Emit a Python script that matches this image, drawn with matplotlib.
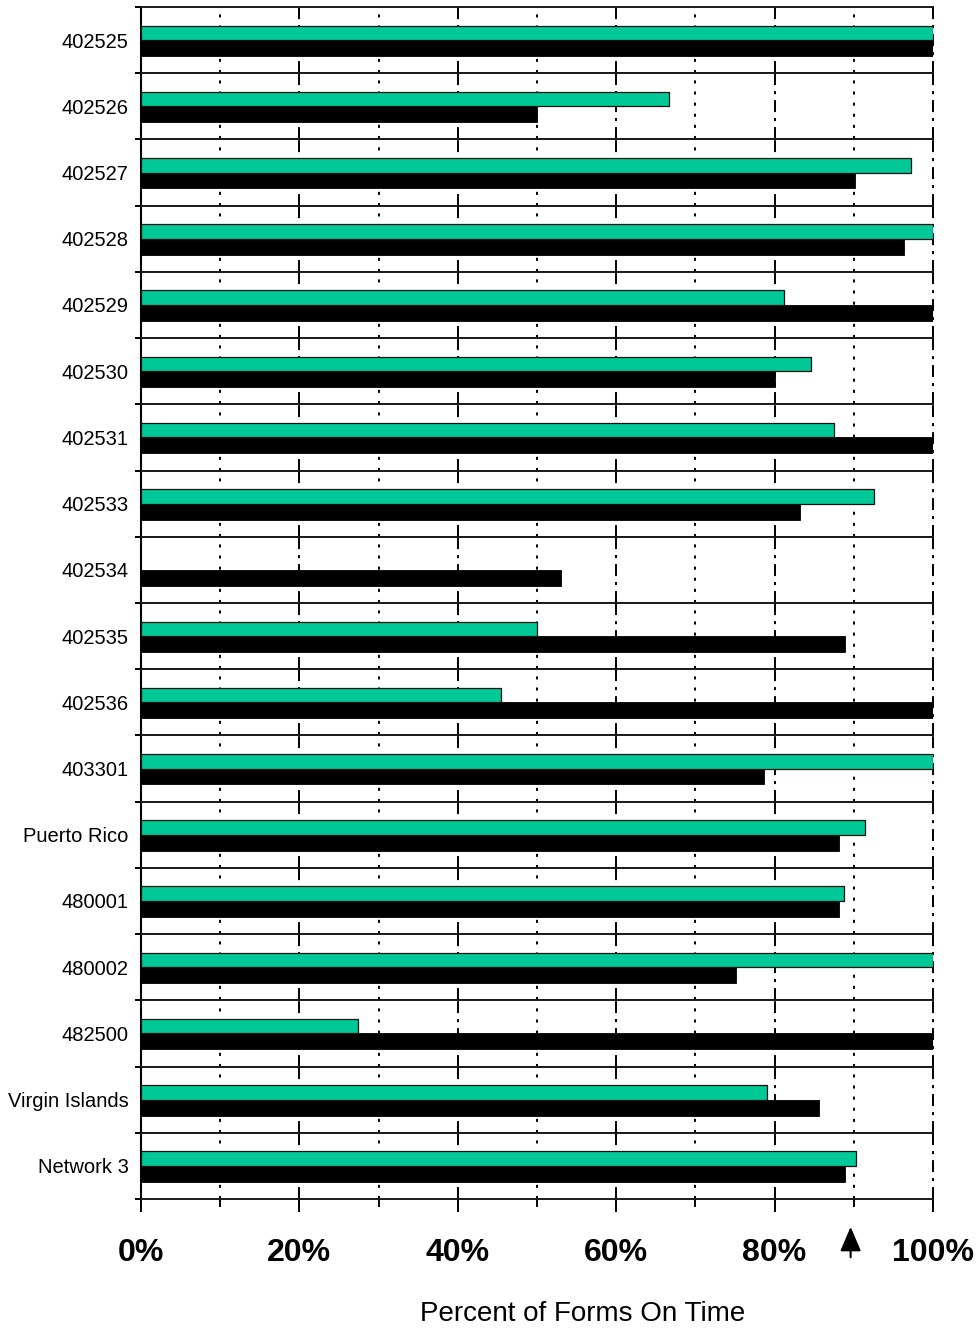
import matplotlib
matplotlib.use("Agg")
import matplotlib.pyplot as plt
import numpy as np

plt.rcParams['font.family'] = ['Liberation Sans', 'DejaVu Sans']
plt.rcParams['lines.scale_dashes'] = False

categories = ["402525", "402526", "402527", "402528", "402529", "402530",
              "402531", "402533", "402534", "402535", "402536", "403301",
              "Puerto Rico", "480001", "480002", "482500", "Virgin Islands",
              "Network 3"]
green_vals = [100, 66.7, 97.2, 100, 81.2, 84.6, 87.5, 92.6, 0, 50.0, 45.5,
              100, 91.4, 88.8, 100, 27.4, 79.0, 90.3]
black_vals = [100, 50.0, 90.2, 96.3, 100, 80.0, 100, 83.2, 53.0, 88.9, 100,
              78.7, 88.1, 88.1, 75.1, 100, 85.6, 88.9]
major_ticks = [0, 20, 40, 60, 80, 100]
minor_ticks = [10, 30, 50, 70, 90]
tick_labels = ["0%", "20%", "40%", "60%", "80%", "100%"]
target = 89.6
xlabel = "Percent of Forms On Time"

GREEN = "#00C896"
W, H = 980, 1330
fig = plt.figure(figsize=(W / 100, H / 100), dpi=100)

left, right = 141 / W, 933 / W
top_px, bot_px = 7, 1199
n = len(categories)
cell = (bot_px - top_px) / n

axes = []
for i, cat in enumerate(categories):
    y0 = top_px + i * cell
    ax = fig.add_axes([left, 1 - (y0 + cell) / H, right - left, cell / H])
    axes.append(ax)
    ax.set_xlim(0, 100)
    ax.set_ylim(1, 0)
    # grid lines
    for x in minor_ticks:
        ax.axvline(x, color='black', lw=1.4, ls=(0, (2.2, 5.8)), zorder=0.5)
    for x in major_ticks[1:]:
        ax.axvline(x, color='black', lw=1.4, ls=(0, (8.6, 4.3, 2.2, 4.3)),
                   zorder=0.5, clip_on=False)
    # bars
    if green_vals[i] > 0:
        ax.barh(0.39, green_vals[i], height=0.22, color=GREEN,
                edgecolor='#111111', linewidth=0.9, zorder=3)
    ax.barh(0.62, black_vals[i], height=0.24, color='black',
            edgecolor='black', linewidth=0.6, zorder=2)
    # spines
    for s in ['top', 'bottom']:
        ax.spines[s].set_linewidth(1.4)
        ax.spines[s].set_color('#1a1a1a')
    ax.spines['left'].set_linewidth(1.5)
    ax.spines['left'].set_color('black')
    ax.spines['right'].set_visible(False)
    # y label as tick
    ax.set_yticks([0.5])
    ax.set_yticklabels([cat], fontsize=14.5)
    ax.tick_params(axis='y', which='major', length=0, pad=9)
    ax.set_yticks([0.0, 1.0], minor=True)
    ax.tick_params(axis='y', which='minor', length=4.5, width=1.4, direction='out')
    ax.set_xticks(major_ticks)
    ax.set_xticks(minor_ticks, minor=True)
    if i < n - 1:
        ax.tick_params(axis='x', which='both', length=0, labelbottom=False)
    else:
        ax.set_xticklabels(tick_labels, fontsize=23, fontweight='bold')
        ax.tick_params(axis='x', which='major', length=9, width=1.4,
                       direction='out', pad=19)
        ax.tick_params(axis='x', which='minor', length=6, width=1.4,
                       direction='out')
        ax.annotate("", xy=(target, -0.42), xytext=(target, -0.88),
                    xycoords=('data', 'axes fraction'),
                    textcoords=('data', 'axes fraction'),
                    arrowprops=dict(arrowstyle='-|>,head_length=0.75,head_width=0.32',
                                    color='black', lw=1.5, mutation_scale=20,
                                    shrinkA=0, shrinkB=0),
                    annotation_clip=False)

fig.text(583 / W, 1 - 1314 / H, xlabel, fontsize=20, ha='center', va='center')

fig.savefig("out.png", dpi=100)
